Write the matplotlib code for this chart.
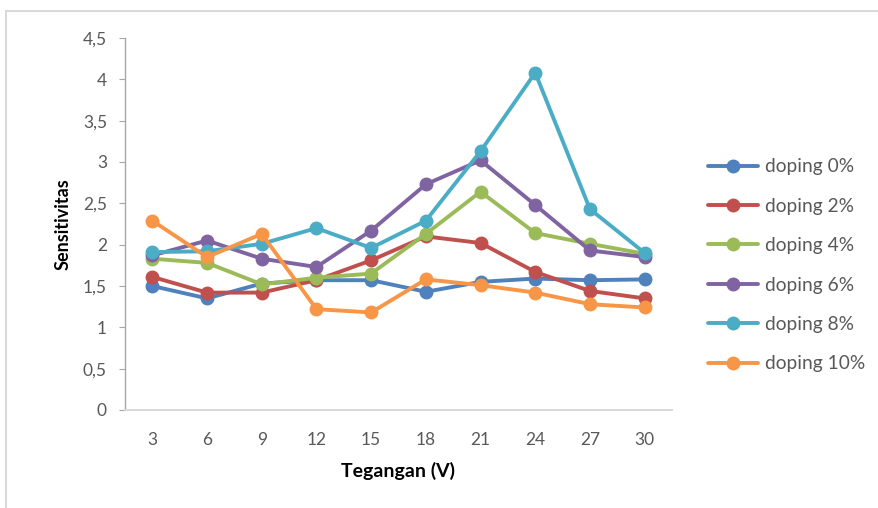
import matplotlib
matplotlib.use("Agg")
import matplotlib.pyplot as plt
from matplotlib.patches import Rectangle

plt.rcParams["font.family"] = ["Lato", "DejaVu Sans"]

# sensitivity vs. applied voltage for each doping level
tegangan = [3, 6, 9, 12, 15, 18, 21, 24, 27, 30]
doping_0 = [1.50, 1.35, 1.53, 1.57, 1.57, 1.43, 1.55, 1.59, 1.57, 1.58]
doping_2 = [1.61, 1.42, 1.42, 1.57, 1.81, 2.10, 2.02, 1.67, 1.44, 1.35]
doping_4 = [1.83, 1.78, 1.52, 1.60, 1.65, 2.13, 2.64, 2.14, 2.01, 1.89]
doping_6 = [1.87, 2.05, 1.83, 1.73, 2.17, 2.73, 3.02, 2.48, 1.93, 1.85]
doping_8 = [1.91, 1.92, 2.01, 2.20, 1.96, 2.29, 3.13, 4.08, 2.43, 1.90]
doping_10 = [2.29, 1.85, 2.13, 1.22, 1.18, 1.58, 1.51, 1.42, 1.28, 1.24]

series = [
    ("doping 0%", doping_0, "#4F81BD"),
    ("doping 2%", doping_2, "#C0504D"),
    ("doping 4%", doping_4, "#9BBB59"),
    ("doping 6%", doping_6, "#8064A2"),
    ("doping 8%", doping_8, "#4BACC6"),
    ("doping 10%", doping_10, "#F79646"),
]
y_ticks = [0, 0.5, 1, 1.5, 2, 2.5, 3, 3.5, 4, 4.5]

W, H = 879, 508
fig = plt.figure(figsize=(W / 100, H / 100), dpi=100)
fig.patch.set_facecolor("white")

# chart area border (left/top edges visible)
fig.patches.append(Rectangle((6 / W, -0.1), 1.2, 1.1 - 11 / H,
                             transform=fig.transFigure, fill=False,
                             edgecolor="#d9d9d9", linewidth=1.5))

ax = fig.add_axes([125 / W, (H - 410) / H, (672 - 125) / W, (410 - 38) / H])
x = list(range(len(tegangan)))
for label, vals, color in series:
    ax.plot(x, vals, color=color, lw=2.8, marker="o", ms=9,
            label=label, solid_capstyle="round")

ax.set_xlim(-0.5, len(tegangan) - 0.5)
ax.set_ylim(0, 4.5)
ax.set_xticks(x)
ax.set_xticklabels([str(t) for t in tegangan])
ax.set_yticks(y_ticks)
ax.set_yticklabels([f"{v:g}".replace(".", ",") for v in y_ticks])

for side in ("top", "right"):
    ax.spines[side].set_visible(False)
ax.spines["left"].set_color("#a6a6a6")
ax.spines["left"].set_linewidth(1.0)
ax.spines["bottom"].set_color("#d9d9d9")
ax.spines["bottom"].set_linewidth(1.4)
ax.tick_params(axis="y", direction="out", length=4, color="#a6a6a6",
               labelsize=12.5, labelcolor="#595959", pad=9)
ax.tick_params(axis="x", length=0, labelsize=12.5, labelcolor="#595959",
               pad=16)

ax.set_xlabel("Tegangan (V)", fontsize=14, fontweight="bold", labelpad=10)
ax.set_ylabel("Sensitivitas", fontsize=13, fontweight="bold", labelpad=8)

fig.legend(loc="upper left", bbox_to_anchor=(691 / W, 1 - 141 / H),
           frameon=False, fontsize=13.8, labelspacing=1.17,
           handlelength=2.6, handletextpad=0.35, labelcolor="#595959")

fig.savefig("out.png", dpi=100, facecolor="white")
